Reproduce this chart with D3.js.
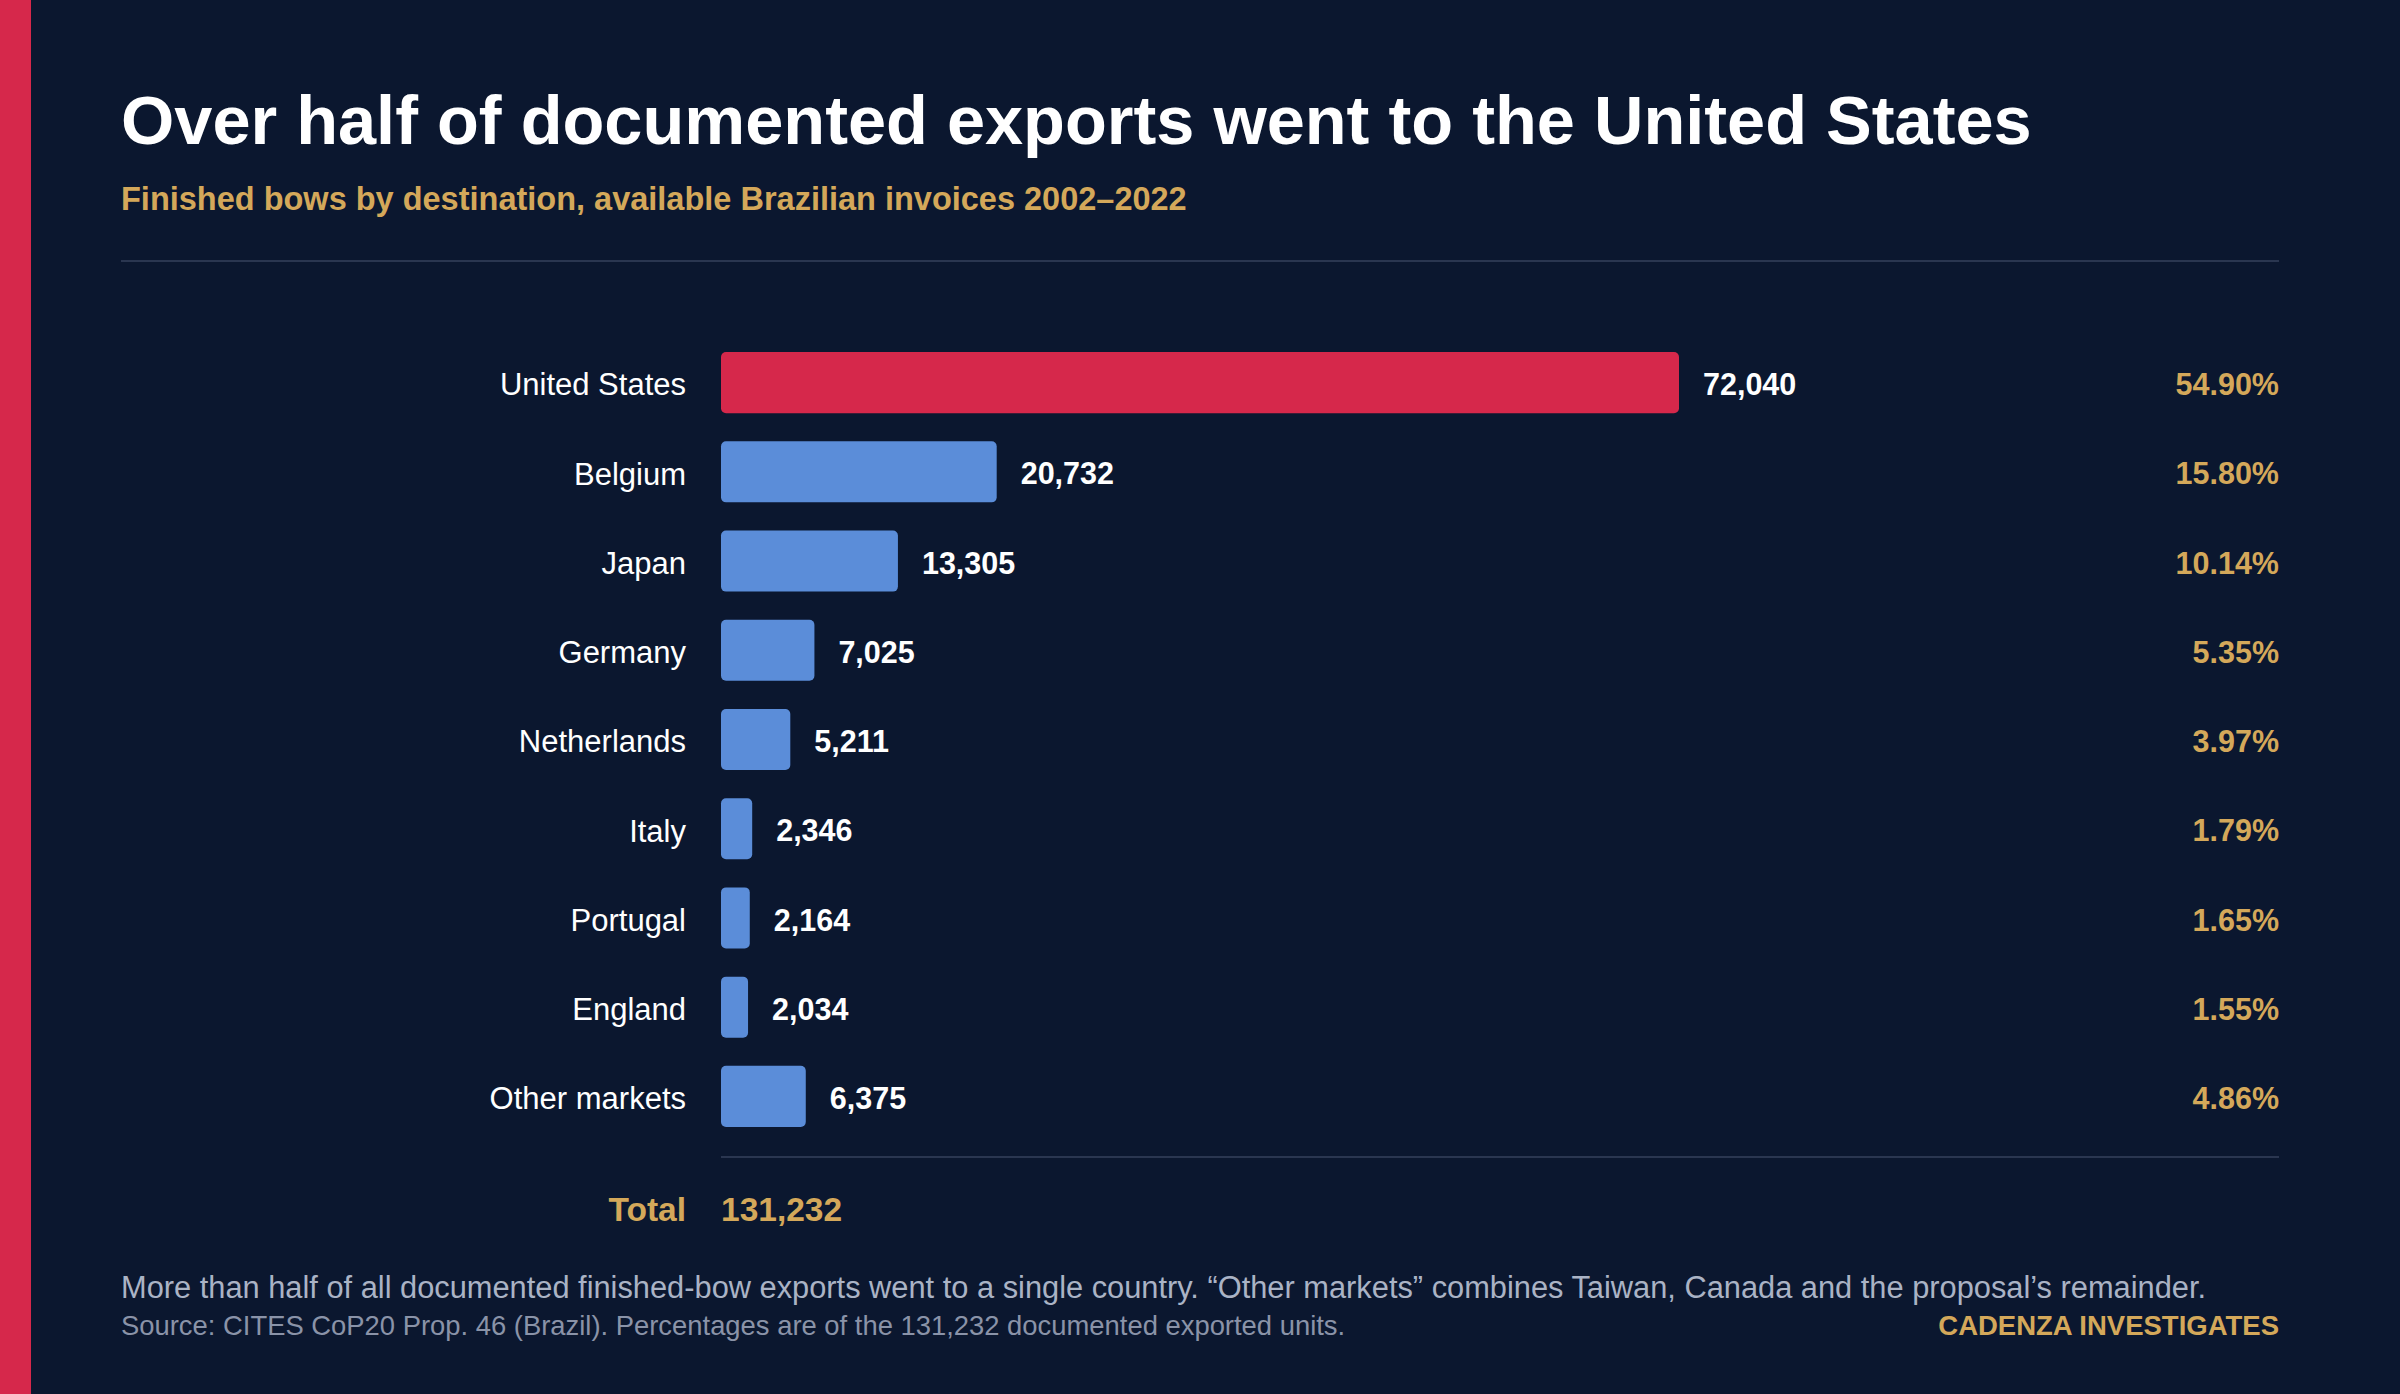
<!DOCTYPE html><html><head><meta charset="utf-8"><script src="https://cdn.jsdelivr.net/npm/d3@7"></script>
<style>body{margin:0;background:#0b172f}svg{display:block;font-family:"Liberation Sans",Arial,sans-serif}</style></head><body><svg id="c" width="2400" height="1394"></svg>
<script>
const categories=["United States","Belgium","Japan","Germany","Netherlands","Italy","Portugal","England","Other markets"];
const values=[72040,20732,13305,7025,5211,2346,2164,2034,6375];
const percents=["54.90%","15.80%","10.14%","5.35%","3.97%","1.79%","1.65%","1.55%","4.86%"];
const total=131232;
const svg=d3.select("#c");
svg.append("rect").attr("width",2400).attr("height",1394).attr("fill","#0b172f");
svg.append("rect").attr("width",31).attr("height",1394).attr("fill","#d6284b");
svg.append("text").attr("x",121).attr("y",144).attr("fill","#fff").attr("font-size",68.5).attr("font-weight",700).text("Over half of documented exports went to the United States");
svg.append("text").attr("x",121).attr("y",210).attr("fill","#d4a85a").attr("font-size",32.5).attr("font-weight",700).text("Finished bows by destination, available Brazilian invoices 2002–2022");
svg.append("line").attr("x1",121).attr("x2",2279).attr("y1",261).attr("y2",261).attr("stroke","#2a3650").attr("stroke-width",2);
const x=d3.scaleLinear().domain([0,72040]).range([721,1679]);
const y=d3.scaleBand().domain(categories).range([338,1141]).paddingInner(0.315).paddingOuter(0.157);
const g=svg.append("g");
categories.forEach((c,i)=>{
 const yc=y(c)+y.bandwidth()/2+2;
 g.append("rect").attr("x",x(0)).attr("y",y(c)).attr("width",x(values[i])-x(0)).attr("height",y.bandwidth()).attr("rx",5).attr("fill",i==0?"#d6284b":"#5b8dd9");
 g.append("text").attr("x",686).attr("y",yc).attr("dy","0.35em").attr("text-anchor","end").attr("fill","#fff").attr("font-size",31).text(c);
 g.append("text").attr("x",x(values[i])+24).attr("y",yc).attr("dy","0.35em").attr("fill","#fff").attr("font-size",30.5).attr("font-weight",700).text(d3.format(",")(values[i]));
 g.append("text").attr("x",2279).attr("y",yc).attr("dy","0.35em").attr("text-anchor","end").attr("fill","#d4a85a").attr("font-size",30.5).attr("font-weight",700).text(percents[i]);
});
svg.append("line").attr("x1",721).attr("x2",2279).attr("y1",1157).attr("y2",1157).attr("stroke","#2a3650").attr("stroke-width",2);
svg.append("text").attr("x",686).attr("y",1209).attr("dy","0.35em").attr("text-anchor","end").attr("fill","#d4a85a").attr("font-size",33.5).attr("font-weight",700).text("Total");
svg.append("text").attr("x",721).attr("y",1209).attr("dy","0.35em").attr("fill","#d4a85a").attr("font-size",33.5).attr("font-weight",700).text(d3.format(",")(total));
svg.append("text").attr("x",121).attr("y",1298).attr("fill","#aab3c5").attr("font-size",30.8).text("More than half of all documented finished-bow exports went to a single country. “Other markets” combines Taiwan, Canada and the proposal’s remainder.");
svg.append("text").attr("x",121).attr("y",1335).attr("fill","#8a93a8").attr("font-size",27.4).text("Source: CITES CoP20 Prop. 46 (Brazil). Percentages are of the 131,232 documented exported units.");
svg.append("text").attr("x",2279).attr("y",1335).attr("text-anchor","end").attr("fill","#d4a85a").attr("font-size",27.5).attr("font-weight",700).text("CADENZA INVESTIGATES");
</script></body></html>
